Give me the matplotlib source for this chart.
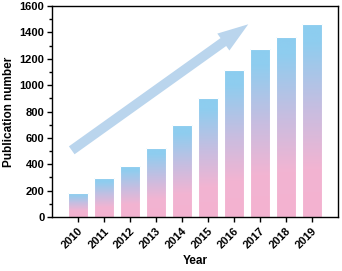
import numpy as np
import matplotlib
matplotlib.use("Agg")
import matplotlib.pyplot as plt
from matplotlib.colors import LinearSegmentedColormap
from matplotlib.patches import FancyArrowPatch
from matplotlib.ticker import MultipleLocator

# -------------------------
# Data
# -------------------------
years = ["2010", "2011", "2012", "2013", "2014", "2015", "2016", "2017", "2018", "2019"]
counts = [184, 293, 387, 525, 698, 902, 1112, 1274, 1367, 1466]

plt.rcParams["font.family"] = ["Liberation Sans", "DejaVu Sans"]
plt.rcParams["font.weight"] = "bold"

fig = plt.figure(figsize=(3.42, 2.71), dpi=100)
ax = fig.add_axes([0.152, 0.199, 0.836, 0.779])

# pink at the bottom, blue at the top of each bar
cmap = LinearSegmentedColormap.from_list(
    "pb", [(0.0, "#f4b2d0"), (0.25, "#f2b4d2"), (0.55, "#c8bde0"), (0.9, "#8fcdef"), (1.0, "#8ccdf0")]
)
grad = np.linspace(0, 1, 256).reshape(-1, 1)

x = np.arange(len(years))
bars = ax.bar(x, counts, width=0.8, color="none", edgecolor="white", linewidth=0.8, zorder=2)
for b in bars:
    x0, w, h = b.get_x(), b.get_width(), b.get_height()
    im = ax.imshow(grad, cmap=cmap, origin="lower", aspect="auto",
                   extent=[x0, x0 + w, 0, h], zorder=1)
    im.set_clip_path(b)

# trend arrow
arrow = FancyArrowPatch((-0.24, 506), (6.55, 1461),
                        arrowstyle="simple,head_length=22,head_width=15,tail_width=7",
                        mutation_scale=1, shrinkA=0, shrinkB=0,
                        color="#bad5ed", lw=0, zorder=3)
ax.add_patch(arrow)

# -------------------------
# Axes styling
# -------------------------
ax.set_xlim(-1, 10)
ax.set_ylim(0, 1600)
ax.set_xticks(x)
ax.set_xticklabels(years, rotation=45, ha="right", rotation_mode="anchor", fontsize=8, fontweight="bold")
ax.yaxis.set_major_locator(MultipleLocator(200))
ax.yaxis.set_minor_locator(MultipleLocator(100))
ax.tick_params(axis="y", which="major", length=3.5, width=1, labelsize=8, pad=2)
ax.tick_params(axis="y", which="minor", length=2, width=1)
ax.tick_params(axis="x", which="major", length=3.5, width=1, pad=3)
for lab in ax.get_yticklabels():
    lab.set_fontweight("bold")
for s in ax.spines.values():
    s.set_linewidth(1)

ax.set_xlabel("Year", fontsize=8.5, fontweight="bold", labelpad=3)
ax.set_ylabel("Publication number", fontsize=8.5, fontweight="bold", labelpad=3)

fig.savefig("out.png", dpi=100)
